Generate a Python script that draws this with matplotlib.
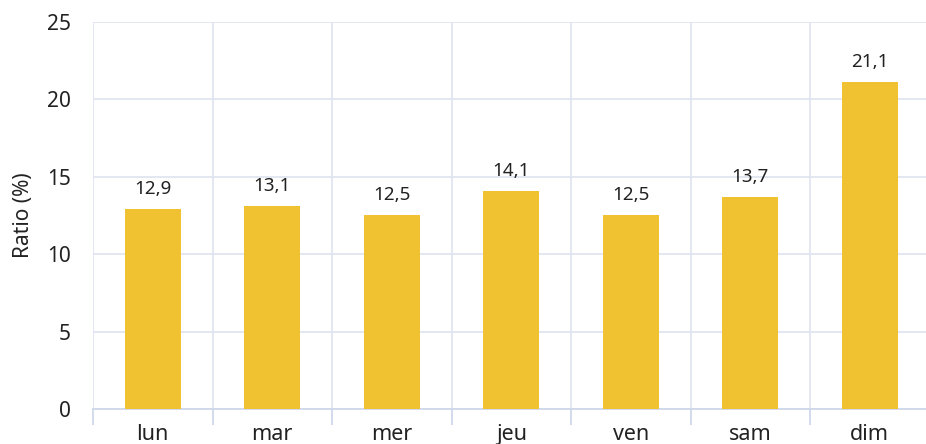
import numpy as np
import matplotlib.pyplot as plt
from matplotlib.ticker import FixedLocator

# Données
jours = ['lun', 'mar', 'mer', 'jeu', 'ven', 'sam', 'dim']
ratio = [12.9, 13.1, 12.5, 14.1, 12.5, 13.7, 21.1]
etiquettes = ['12,9', '13,1', '12,5', '14,1', '12,5', '13,7', '21,1']

plt.rcParams['font.family'] = ['Noto Sans', 'DejaVu Sans']
grille = '#dfe5f0'
texte = '#222222'

fig = plt.figure(figsize=(9.26, 4.44), dpi=100)
ax = fig.add_axes([93 / 926, 35 / 444, 833 / 926, 387 / 444])

x = np.arange(len(jours))
ax.bar(x, ratio, width=0.47, color='#f0c232', zorder=3)

for xi, val, lab in zip(x, ratio, etiquettes):
    ax.annotate(lab, (xi, val), xytext=(0, 8), textcoords='offset points',
                ha='center', va='bottom', fontsize=13.5, color=texte)

ax.set_xlim(-0.5, 6.47)
ax.set_ylim(0, 25)
ax.set_yticks(np.arange(0, 26, 5))
ax.set_xticks(x)
ax.set_xticklabels(jours)
ax.xaxis.set_minor_locator(FixedLocator(np.arange(-0.5, 7, 1)))

ax.grid(True, which='major', axis='y', color=grille, lw=1.3, zorder=0)
ax.grid(True, which='minor', axis='x', color=grille, lw=1.3, zorder=0)

for s in ['top', 'right', 'left']:
    ax.spines[s].set_visible(False)
ax.spines['bottom'].set_color('#cfd8ea')
ax.spines['bottom'].set_linewidth(1.3)

ax.tick_params(axis='y', length=0, pad=16, labelsize=15, labelcolor=texte)
ax.tick_params(axis='x', which='major', length=0, pad=11, labelsize=15.5,
               labelcolor=texte)
ax.tick_params(axis='x', which='minor', length=11.5, width=1.3,
               color='#cfd8ea')

ax.set_ylabel('Ratio (%)', fontsize=15, color=texte, labelpad=9)

fig.savefig('out.png', dpi=100)
